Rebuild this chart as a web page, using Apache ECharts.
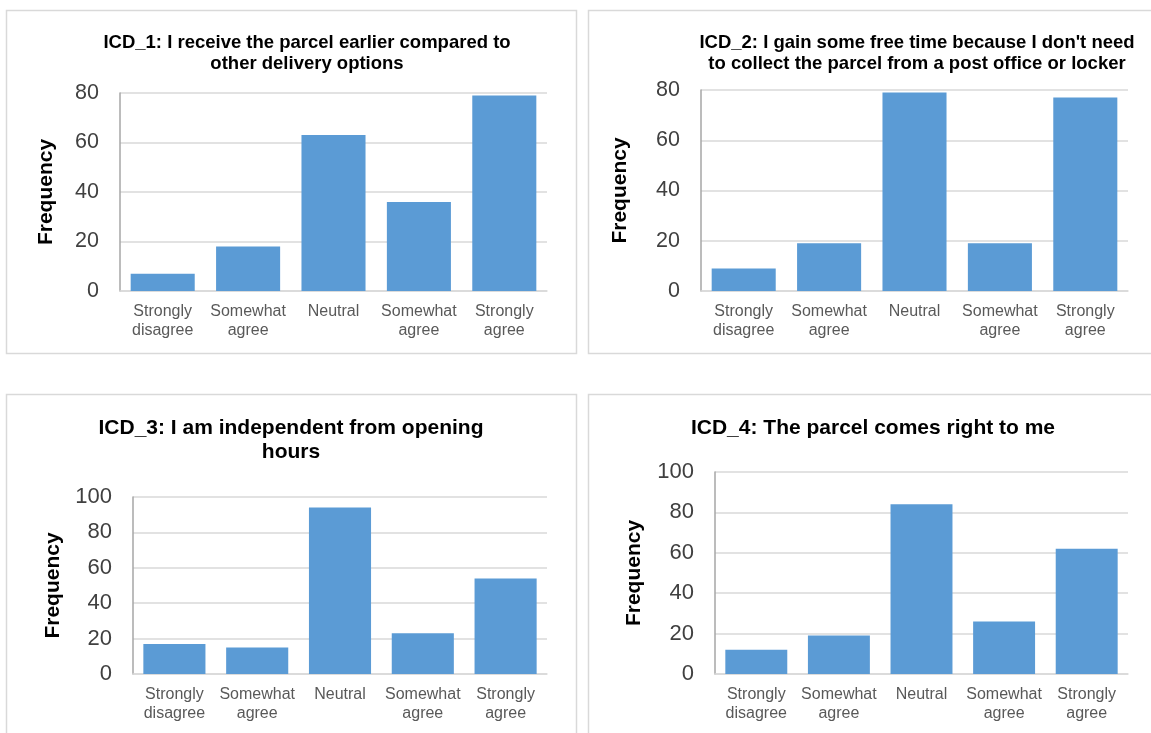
<!DOCTYPE html>
<html>
<head>
<meta charset="utf-8">
<script src="https://cdn.jsdelivr.net/npm/echarts@6/dist/echarts.min.js"></script>
<style>
  html, body { margin: 0; padding: 0; background: #ffffff; }
  #chart { width: 1151px; height: 733px; }
</style>
</head>
<body>
<div id="chart"></div>
<script>
// Likert response categories shared by all four items
const categories = ['Strongly\ndisagree', 'Somewhat\nagree', 'Neutral', 'Somewhat\nagree', 'Strongly\nagree'];

// Item titles
const titles = [
  'ICD_1: I receive the parcel earlier compared to\nother delivery options',
  "ICD_2: I gain some free time because I don't need\nto collect the parcel from a post office or locker",
  'ICD_3: I am independent from opening\nhours',
  'ICD_4: The parcel comes right to me'
];

// Response frequencies per item
const icd1 = [7, 18, 63, 36, 79];
const icd2 = [9, 19, 79, 19, 77];
const icd3 = [17, 15, 94, 23, 54];
const icd4 = [12, 19, 84, 26, 62];

// Value-axis ranges per item
const axisMax = [80, 80, 100, 100];
const axisStep = 20;

const seriesValues = [icd1, icd2, icd3, icd4];

// Panel geometry
const panels = [
  { grid: { left: 120, top: 93, width: 427, height: 198 }, titleX: 307, titleY: 32, titleSize: 18.5, titleLH: 21, tickSize: 21.5, nameGap: 63 },
  { grid: { left: 701, top: 90, width: 427, height: 201 }, titleX: 917, titleY: 32, titleSize: 18.5, titleLH: 21, tickSize: 21.5, nameGap: 70 },
  { grid: { left: 133, top: 497, width: 414, height: 177 }, titleX: 291, titleY: 416, titleSize: 21, titleLH: 24, tickSize: 22, nameGap: 69 },
  { grid: { left: 715, top: 472, width: 413, height: 202 }, titleX: 873, titleY: 416, titleSize: 21, titleLH: 24, tickSize: 22, nameGap: 70 }
];

const FONT = '"Liberation Sans", Arial, sans-serif';
const BAR = '#5B9BD5';
const GRIDLINE = '#D9D9D9';
const TEXT = '#595959';
const TICK_TEXT = '#404040';

const option = {
  animation: false,
  backgroundColor: '#ffffff',
  title: panels.map((p, i) => ({
    text: titles[i],
    left: p.titleX,
    top: p.titleY,
    textAlign: 'center',
    padding: 0,
    textStyle: {
      fontFamily: FONT,
      fontWeight: 'bold',
      fontSize: p.titleSize,
      lineHeight: p.titleLH,
      color: '#000000'
    }
  })),
  grid: panels.map(p => Object.assign({ containLabel: false }, p.grid)),
  xAxis: panels.map((p, i) => ({
    type: 'category',
    gridIndex: i,
    data: categories,
    axisTick: { show: false },
    axisLine: { lineStyle: { color: GRIDLINE, width: 1.5 } },
    axisLabel: {
      interval: 0,
      margin: 11,
      fontFamily: FONT,
      fontSize: 16,
      lineHeight: 19,
      color: TEXT
    }
  })),
  yAxis: panels.map((p, i) => ({
    type: 'value',
    gridIndex: i,
    min: 0,
    max: axisMax[i],
    interval: axisStep,
    name: 'Frequency',
    nameLocation: 'middle',
    nameRotate: 90,
    nameGap: p.nameGap,
    nameTextStyle: {
      fontFamily: FONT,
      fontWeight: 'bold',
      fontSize: 21,
      color: '#000000'
    },
    axisLine: { show: true, lineStyle: { color: '#A6A6A6', width: 1.5 } },
    axisTick: { show: false },
    splitLine: { lineStyle: { color: GRIDLINE, width: 1.5 } },
    axisLabel: {
      margin: 21,
      fontFamily: FONT,
      fontSize: p.tickSize,
      color: TICK_TEXT
    }
  })),
  series: seriesValues.map((vals, i) => ({
    type: 'bar',
    xAxisIndex: i,
    yAxisIndex: i,
    data: vals,
    barCategoryGap: '25%',
    itemStyle: { color: BAR }
  })),
  // Light frames around each panel
  graphic: [
    { type: 'rect', shape: { x: 6.5, y: 10.5, width: 570, height: 343 }, style: { fill: null, stroke: GRIDLINE, lineWidth: 1.5 }, silent: true },
    { type: 'rect', shape: { x: 588.5, y: 10.5, width: 570, height: 343 }, style: { fill: null, stroke: GRIDLINE, lineWidth: 1.5 }, silent: true },
    { type: 'rect', shape: { x: 6.5, y: 394.5, width: 570, height: 350 }, style: { fill: null, stroke: GRIDLINE, lineWidth: 1.5 }, silent: true },
    { type: 'rect', shape: { x: 588.5, y: 394.5, width: 570, height: 350 }, style: { fill: null, stroke: GRIDLINE, lineWidth: 1.5 }, silent: true }
  ]
};

const chart = echarts.init(document.getElementById('chart'), null, { renderer: 'canvas' });
chart.setOption(option);
</script>
</body>
</html>
